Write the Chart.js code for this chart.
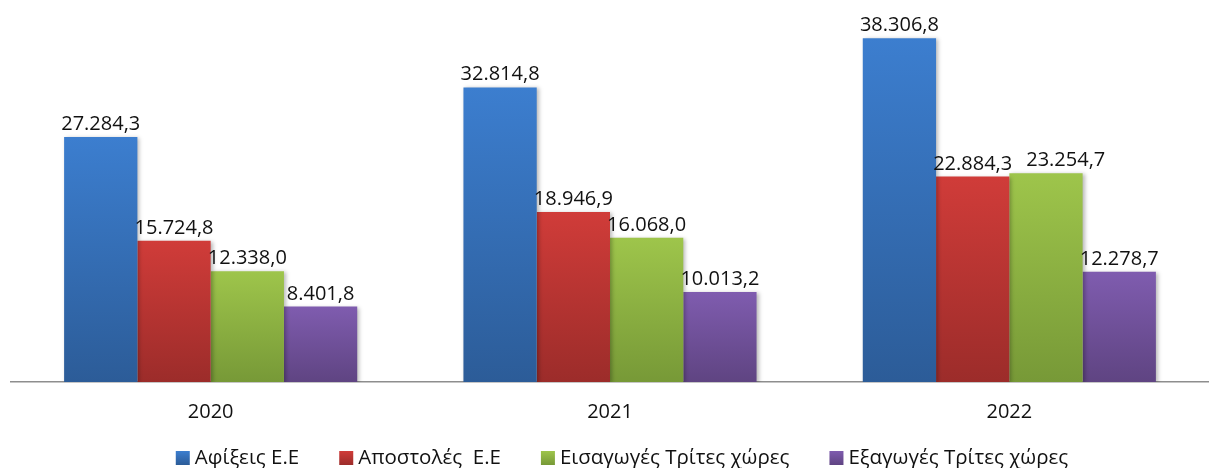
<!DOCTYPE html>
<html>
<head>
<meta charset="utf-8">
<script src="https://cdn.jsdelivr.net/npm/chart.js@4"></script>
<style>
  html, body { margin: 0; padding: 0; background: #fff; }
  #wrap { width: 1209px; height: 468px; }
</style>
</head>
<body>
<div id="wrap"><canvas id="tradeChart"></canvas></div>
<script>
const years = ['2020', '2021', '2022'];
const arrivalsEU = [27284.3, 32814.8, 38306.8];
const dispatchesEU = [15724.8, 18946.9, 22884.3];
const importsThird = [12338.0, 16068.0, 23254.7];
const exportsThird = [8401.8, 10013.2, 12278.7];

const FONT = '"Open Sans", "Noto Sans", sans-serif';

// top / bottom colour of each series' gradient
const tones = [
  ['#3c7ecf', '#2c5c98'],
  ['#d03c39', '#9c2c2a'],
  ['#9ec54b', '#779937'],
  ['#7f5caf', '#5f4482']
];

// thousands with '.', decimals with ','
function fmt(v) {
  const parts = v.toFixed(1).split('.');
  return parts[0].replace(/\B(?=(\d{3})+(?!\d))/g, '.') + ',' + parts[1];
}

// each bar gets its own light-to-dark gradient
function grad(top, bottom) {
  return function (c) {
    const chart = c.chart;
    const area = chart.chartArea;
    if (!area || c.type !== 'data') return top;
    const y = chart.scales.y.getPixelForValue(c.raw);
    const g = chart.ctx.createLinearGradient(0, y, 0, area.bottom);
    g.addColorStop(0, top);
    g.addColorStop(1, bottom);
    return g;
  };
}

const barShadow = {
  id: 'barShadow',
  beforeDatasetsDraw(chart) {
    const ctx = chart.ctx;
    ctx.save();
    ctx.shadowColor = 'rgba(0,0,0,0.28)';
    ctx.shadowBlur = 4;
    ctx.shadowOffsetX = 2;
    ctx.shadowOffsetY = 1;
  },
  afterDatasetsDraw(chart) {
    chart.ctx.restore();
  }
};

// value above each bar; a label that would collide with its left
// neighbour at about the same height is pushed to the right
const valueLabels = {
  id: 'valueLabels',
  afterDatasetsDraw(chart) {
    const ctx = chart.ctx;
    ctx.save();
    ctx.font = '20px ' + FONT;
    ctx.fillStyle = '#111';
    ctx.textAlign = 'left';
    ctx.textBaseline = 'alphabetic';
    const n = chart.data.labels.length;
    for (let j = 0; j < n; j++) {
      let prev = null;
      chart.data.datasets.forEach((ds, i) => {
        const bar = chart.getDatasetMeta(i).data[j];
        const text = fmt(ds.data[j]);
        const w = ctx.measureText(text).width;
        let x = bar.x - w / 2;
        const y = bar.y - 7;
        if (prev && Math.abs(prev.y - y) < 18 && x < prev.right + 14) {
          x = prev.right + 14;
        }
        ctx.fillText(text, x, y);
        prev = { right: x + w, y: y };
      });
    }
    ctx.restore();
  }
};

// legend drawn by hand: Excel-like spacing (small box gap, wide item gap)
const bottomLegend = {
  id: 'bottomLegend',
  afterDraw(chart) {
    const ctx = chart.ctx;
    const box = 14, gap = 5, between = 40;
    const y = 458;
    ctx.save();
    ctx.font = '20.5px ' + FONT;
    const items = chart.data.datasets.map((ds, i) => ({
      text: ds.label,
      w: ctx.measureText(ds.label).width,
      tone: tones[i]
    }));
    let total = 0;
    items.forEach((it, i) => { total += box + gap + it.w + (i ? between : 0); });
    const mid = (chart.chartArea.left + chart.chartArea.right) / 2 + 12;
    let x = mid - total / 2;
    ctx.textBaseline = 'middle';
    ctx.textAlign = 'left';
    items.forEach(it => {
      const g = ctx.createLinearGradient(0, y - box / 2, 0, y + box / 2);
      g.addColorStop(0, it.tone[0]);
      g.addColorStop(1, it.tone[1]);
      ctx.fillStyle = g;
      ctx.fillRect(x, y - box / 2, box, box);
      ctx.fillStyle = '#111';
      ctx.fillText(it.text, x + box + gap, y);
      x += box + gap + it.w + between;
    });
    ctx.restore();
  }
};

const ctx = document.getElementById('tradeChart').getContext('2d');

new Chart(ctx, {
  type: 'bar',
  data: {
    labels: years,
    datasets: [
      { label: 'Αφίξεις Ε.Ε', data: arrivalsEU, backgroundColor: grad(tones[0][0], tones[0][1]) },
      { label: 'Αποστολές  Ε.Ε', data: dispatchesEU, backgroundColor: grad(tones[1][0], tones[1][1]) },
      { label: 'Εισαγωγές Τρίτες χώρες', data: importsThird, backgroundColor: grad(tones[2][0], tones[2][1]) },
      { label: 'Εξαγωγές Τρίτες χώρες', data: exportsThird, backgroundColor: grad(tones[3][0], tones[3][1]) }
    ]
  },
  options: {
    responsive: true,
    maintainAspectRatio: false,
    animation: false,
    datasets: {
      bar: { categoryPercentage: 0.734, barPercentage: 1, borderWidth: 0 }
    },
    layout: { padding: { top: 5, left: 11, right: 0, bottom: 46 } },
    plugins: {
      legend: { display: false },
      tooltip: { enabled: false }
    },
    scales: {
      x: {
        grid: { display: false, drawTicks: false },
        border: { display: true, color: '#8e8e8e', width: 1.5 },
        ticks: { color: '#111', padding: 18, font: { family: FONT, size: 20 } },
        afterFit(scale) { scale.height = 40; }
      },
      y: {
        display: false,
        min: 0,
        max: 42000
      }
    }
  },
  plugins: [barShadow, valueLabels, bottomLegend]
});
</script>
</body>
</html>
